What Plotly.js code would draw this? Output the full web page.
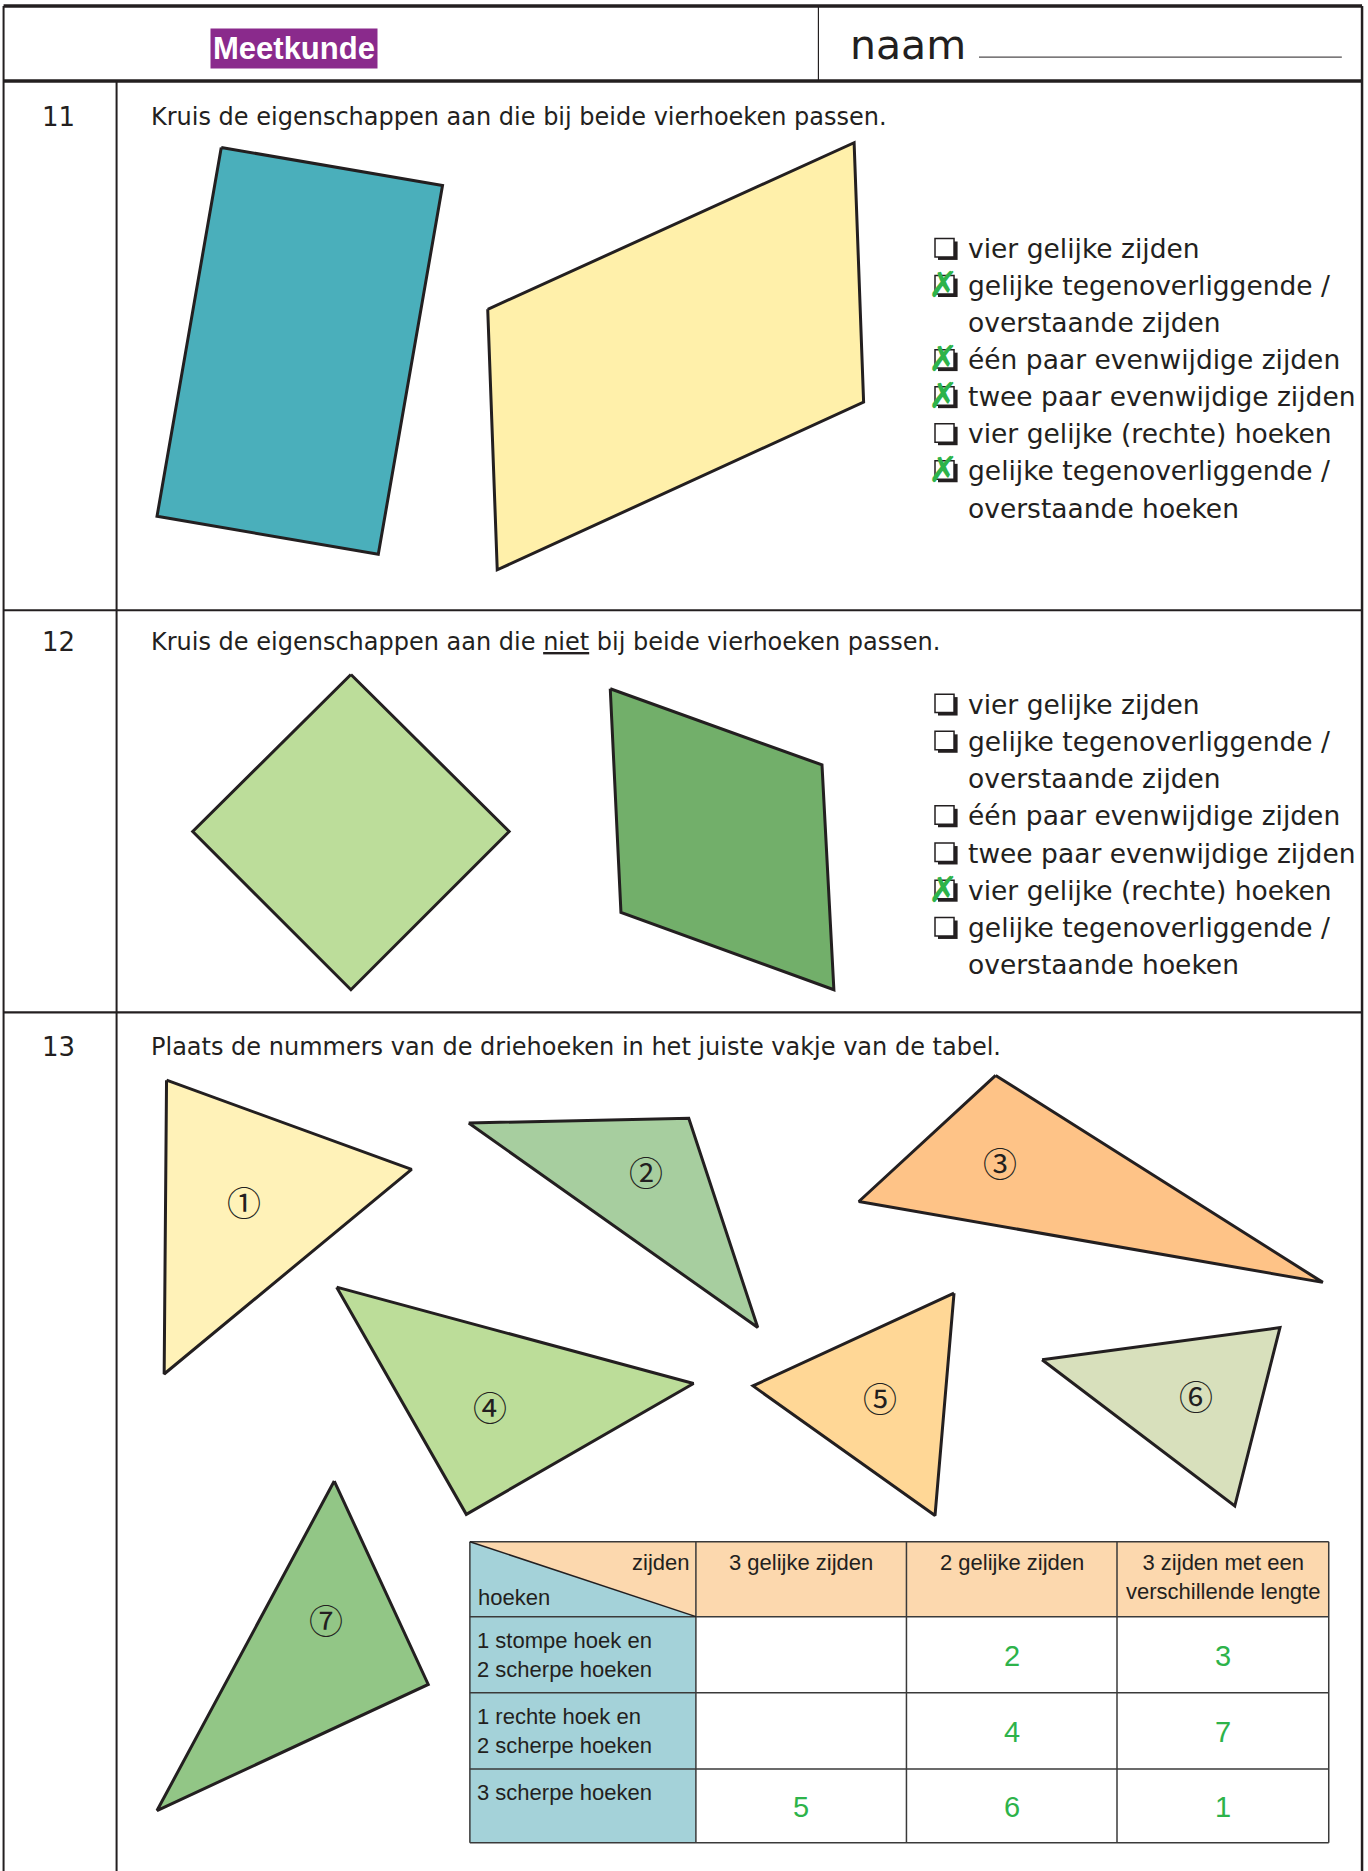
<!DOCTYPE html>
<html>
<head>
<meta charset="utf-8">
<script src="https://cdn.plot.ly/plotly-3.0.1.min.js"></script>
<style>html,body{margin:0;padding:0;background:#fff;}#chart{width:1368px;height:1871px;}</style>
</head>
<body>
<div id="chart"></div>
<script>
// ---------- DATA ----------
const title = 'Meetkunde';
const nameLabel = 'naam';
const exerciseNumbers = ['11', '12', '13'];
const instructions = [
  'Kruis de eigenschappen aan die bij beide vierhoeken passen.',
  'Kruis de eigenschappen aan die <u>niet</u> bij beide vierhoeken passen.',
  'Plaats de nummers van de driehoeken in het juiste vakje van de tabel.'
];
// checklist lines (second line of a two-line item has no box)
const listLines = ['vier gelijke zijden', 'gelijke tegenoverliggende /', 'overstaande zijden',
  'één paar evenwijdige zijden', 'twee paar evenwijdige zijden', 'vier gelijke (rechte) hoeken',
  'gelijke tegenoverliggende /', 'overstaande hoeken'];
const lineHasBox = [true, true, false, true, true, true, true, false];
const checked11 = [false, true, false, true, true, false, true, false];
const checked12 = [false, false, false, false, false, true, false, false];

// quadrilaterals (vertex coordinates)
const blueQuadX = [186, 372, 318, 132];
const blueQuadY = [124, 156, 466, 434];
const yellowQuadX = [410, 718, 726, 418];
const yellowQuadY = [260, 120, 338, 479];
const squareX = [295, 428, 295, 162];
const squareY = [567, 699, 832, 699];
const greenQuadX = [513, 691, 701, 522];
const greenQuadY = [579, 643, 832, 767];

// triangles
const triX = [[140, 346, 138], [394, 579, 637], [837, 1112, 722], [283, 583, 392], [802, 786, 633], [876, 1076, 1038], [281, 360, 132]];
const triY = [[908, 983, 1155], [944, 940, 1116], [904, 1078, 1010], [1082, 1163, 1273], [1087, 1274, 1165], [1143, 1116, 1266], [1245, 1416, 1522]];
const triLabels = ['①', '②', '③', '④', '⑤', '⑥', '⑦'];
const triLabelX = [205, 543, 841, 412, 740, 1005, 274];
const triLabelY = [1010, 985, 977, 1182, 1175, 1173, 1361];

// table
const cornerTop = 'zijden';
const cornerBottom = 'hoeken';
const colHeaders = ['3 gelijke zijden', '2 gelijke zijden', '3 zijden met een<br>verschillende lengte'];
const rowHeaders = ['1 stompe hoek en<br>2 scherpe hoeken', '1 rechte hoek en<br>2 scherpe hoeken', '3 scherpe hoeken'];
const answers = [['', '2', '3'], ['', '4', '7'], ['5', '6', '1']];

// ---------- LAYOUT CONSTANTS ----------
const W = 1150, H = 1572.8;
const ink = '#231F20';
const green = '#2DB34A';
const colEdges = [395, 585, 762, 939, 1117];
const rowEdges = [1296, 1359, 1423, 1487, 1549];
const fontMain = 'DejaVu Sans, Liberation Sans, sans-serif';
const fontNarrow = 'Liberation Sans Narrow, Arial Narrow, Liberation Sans, sans-serif';

const traces = [];
const shapes = [];
const ann = [];

function poly(xs, ys, fill, lw) {
  traces.push({x: xs.concat([xs[0]]), y: ys.concat([ys[0]]), mode: 'lines', fill: 'toself',
    fillcolor: fill, line: {color: ink, width: lw === undefined ? 3 : lw}, hoverinfo: 'skip'});
}
function line(x0, y0, x1, y1, w, c) {
  shapes.push({type: 'line', xref: 'x', yref: 'y', x0: x0, y0: y0, x1: x1, y1: y1, line: {color: c || ink, width: w}});
}
function rect(x0, y0, x1, y1, fill, lc, lw) {
  shapes.push({type: 'rect', xref: 'x', yref: 'y', x0: x0, y0: y0, x1: x1, y1: y1,
    fillcolor: fill, line: {color: lc || ink, width: lw || 0}});
}
function text(x, y, t, size, opts) {
  opts = opts || {};
  ann.push(Object.assign({x: x, y: y, xref: 'x', yref: 'y', text: t, showarrow: false,
    xanchor: 'left', yanchor: 'middle', font: {family: fontMain, size: size, color: ink}}, opts));
}

// ---------- FRAME ----------
line(3, 5, 1145, 5, 3.5);
line(3, 68, 1145, 68, 3.5);
line(3, 5, 3, H, 2);
line(1145, 5, 1145, H, 2.5);
line(688, 5, 688, 68, 1.2);
line(98, 68, 98, H, 2);
line(3, 513, 1145, 513, 2.2);
line(3, 851, 1145, 851, 2.2);

// header
text(247, 41, '<b>' + title + '</b>', 31, {xanchor: 'center', bgcolor: '#8A2A8C', borderpad: 2,
  font: {family: 'Liberation Sans, Arial, sans-serif', size: 31, color: '#ffffff'}});
text(713, 38, nameLabel, 42, {font: {family: 'DejaVu Sans, sans-serif', size: 41, color: ink}});
line(823, 48, 1128, 48, 1);

// exercise numbers and instructions
const sectionY = [98, 540, 880];
exerciseNumbers.forEach(function (n, i) {
  text(49, sectionY[i], n, 26, {xanchor: 'center'});
  text(125, sectionY[i], instructions[i], 24);
});

// ---------- SECTION 11 & 12 ----------
poly(blueQuadX, blueQuadY, '#4AAFBB');
poly(yellowQuadX, yellowQuadY, '#FFF0AA');
poly(squareX, squareY, '#BCDD9A');
poly(greenQuadX, greenQuadY, '#72AF6A');

function checklist(y0, step, checked) {
  listLines.forEach(function (t, i) {
    const y = y0 + i * step;
    text(812, y, t, 26.5);
    if (lineHasBox[i]) {
      rect(788.5, y - 6, 805, y + 9.5, ink);
      rect(786, y - 8.5, 802, y + 7, '#ffffff', ink, 1.5);
    }
    if (checked[i]) {
      text(793, y - 1, '<b>✗</b>', 36, {xanchor: 'center', font: {family: 'DejaVu Sans, sans-serif', size: 36, color: green}});
    }
  });
}
checklist(209, 31.15, checked11);
checklist(592, 31.3, checked12);

// ---------- SECTION 13 ----------
const triColors = ['#FFF2B8', '#A7CE9F', '#FEC387', '#BCDD99', '#FFD796', '#D8E0BC', '#92C686'];
triX.forEach(function (xs, i) {
  poly(xs, triY[i], triColors[i]);
  text(triLabelX[i], triLabelY[i], triLabels[i], 34, {xanchor: 'center',
    font: {family: 'Noto Sans CJK JP, DejaVu Sans, sans-serif', size: 34, color: ink}});
});

// table backgrounds
const peach = '#FCD8AE', teal = '#A4D2D9';
const tl = colEdges[0], tr = colEdges[1], tt = rowEdges[0], tb = rowEdges[1];
traces.push({x: [tl, tr, tr, tl], y: [tt, tt, tb, tt], mode: 'lines', fill: 'toself', fillcolor: peach, line: {width: 0}, hoverinfo: 'skip'});
traces.push({x: [tl, tr, tl, tl], y: [tt, tb, tb, tt], mode: 'lines', fill: 'toself', fillcolor: teal, line: {width: 0}, hoverinfo: 'skip'});
for (let c = 1; c < colEdges.length - 1; c++) {
  shapes.push({type: 'rect', xref: 'x', yref: 'y', x0: colEdges[c], x1: colEdges[c + 1], y0: rowEdges[0], y1: rowEdges[1],
    fillcolor: peach, line: {width: 0}, layer: 'below'});
}
for (let r = 1; r < rowEdges.length - 1; r++) {
  shapes.push({type: 'rect', xref: 'x', yref: 'y', x0: colEdges[0], x1: colEdges[1], y0: rowEdges[r], y1: rowEdges[r + 1],
    fillcolor: teal, line: {width: 0}, layer: 'below'});
}
// grid
const gridC = '#3a3a3a';
colEdges.forEach(function (x) { line(x, rowEdges[0], x, rowEdges[rowEdges.length - 1], 1.5, gridC); });
rowEdges.forEach(function (y) { line(colEdges[0], y, colEdges[colEdges.length - 1], y, 1.5, gridC); });
line(tl, tt, tr, tb, 1.5, ink);

// table text
const tf = {family: fontNarrow, size: 22, color: ink};
text(tr - 4, tt + 5, cornerTop, 22, {xanchor: 'right', yanchor: 'top', font: tf});
text(tl + 5, tb - 4, cornerBottom, 22, {yanchor: 'bottom', font: tf});
colHeaders.forEach(function (h, c) {
  text((colEdges[c + 1] + colEdges[c + 2]) / 2, tt + 5, h, 22, {xanchor: 'center', yanchor: 'top', align: 'center', font: tf});
});
rowHeaders.forEach(function (h, r) {
  text(tl + 4, rowEdges[r + 1] + 8, h, 22, {yanchor: 'top', align: 'left', font: tf});
  answers[r].forEach(function (a, c) {
    if (a) text((colEdges[c + 1] + colEdges[c + 2]) / 2, (rowEdges[r + 1] + rowEdges[r + 2]) / 2 + 1, a, 29,
      {xanchor: 'center', font: {family: 'Liberation Sans, Arial, sans-serif', size: 29, color: green}});
  });
});

const layout = {
  width: 1368, height: 1871,
  margin: {l: 0, r: 0, t: 0, b: 0},
  paper_bgcolor: '#ffffff', plot_bgcolor: '#ffffff',
  showlegend: false,
  xaxis: {range: [0, W], visible: false, fixedrange: true},
  yaxis: {range: [H, 0], visible: false, fixedrange: true},
  shapes: shapes,
  annotations: ann
};
Plotly.newPlot('chart', traces, layout, {staticPlot: true, displayModeBar: false});
</script>
</body>
</html>
